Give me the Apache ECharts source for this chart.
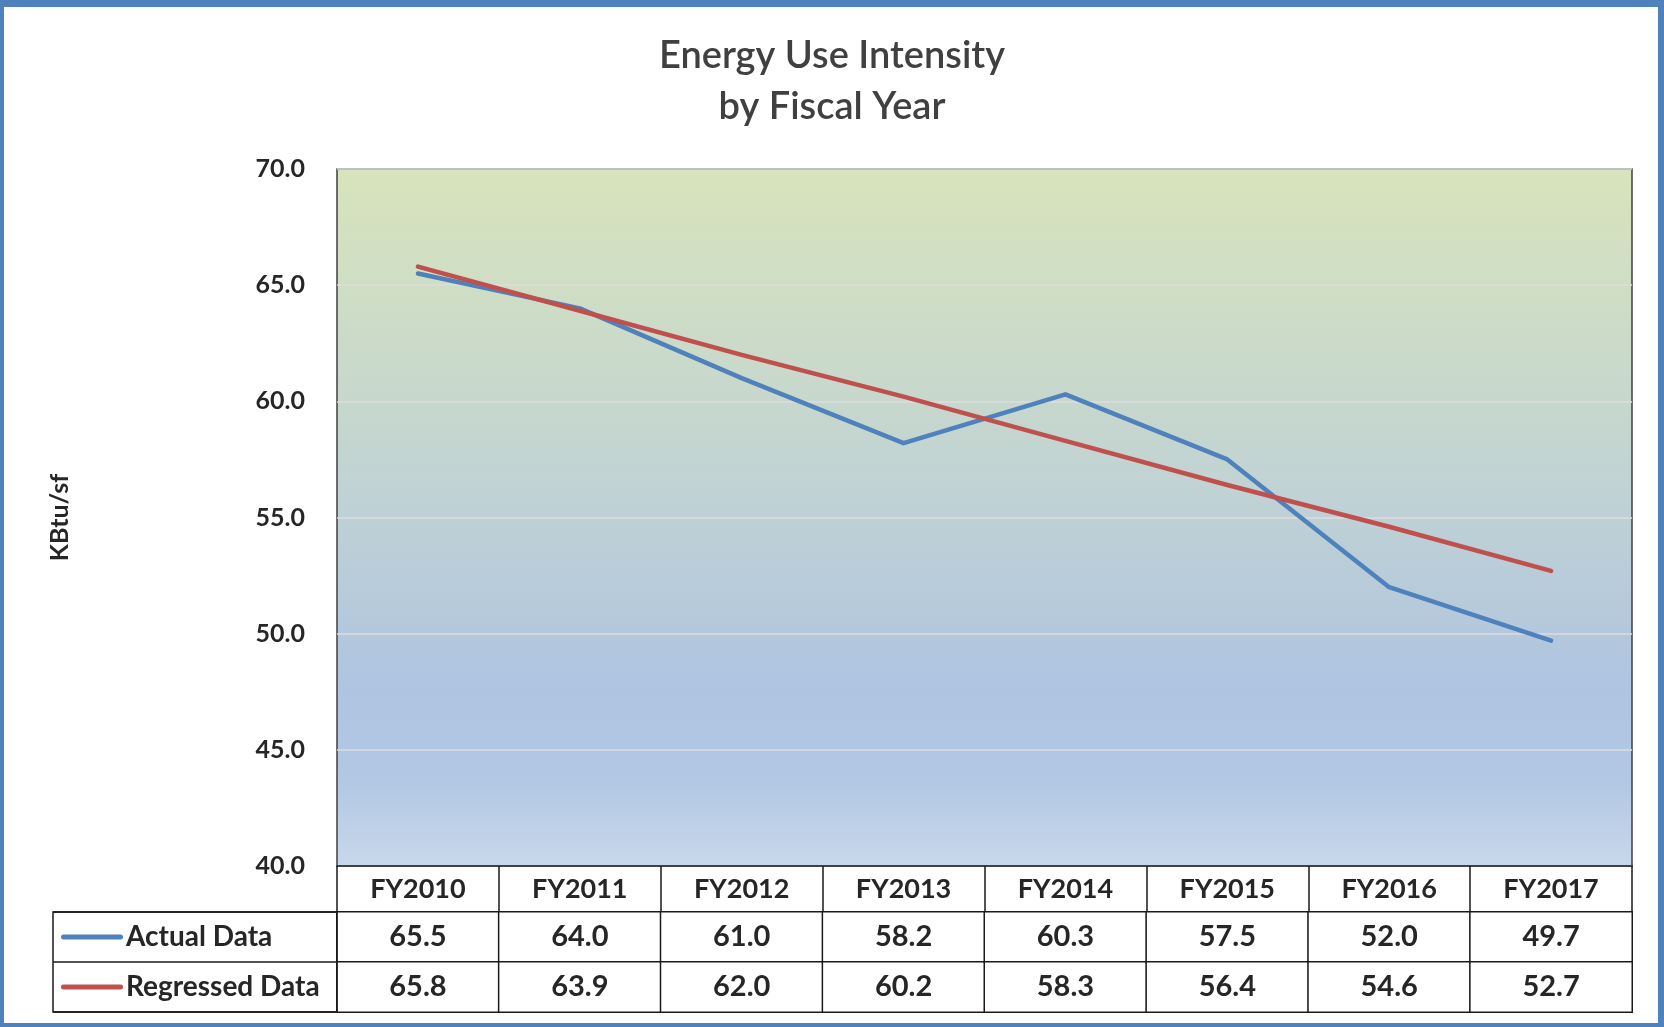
<!DOCTYPE html>
<head>
    <meta charset="utf-8">
    <title>Energy Use Intensity by Fiscal Year</title>
    <script src="https://cdn.jsdelivr.net/npm/echarts@6/dist/echarts.min.js"></script>
    <style>
        body { margin: 0; background: #fff; }
        #main { position: absolute; left: 0; top: 0; width: 1664px; height: 1027px; }
        #frame { position: absolute; left: 0; top: 0; width: 1664px; height: 1027px; box-sizing: border-box;
                 border: solid #4f81bd; border-width: 7px 6px 4px 4px; pointer-events: none; }
    </style>
</head>
<body>
    <div id="main"></div>
    <div id="frame"></div>
    <script type="text/javascript">
        // data
        var years = ['FY2010', 'FY2011', 'FY2012', 'FY2013', 'FY2014', 'FY2015', 'FY2016', 'FY2017'];
        var actual = [65.5, 64.0, 61.0, 58.2, 60.3, 57.5, 52.0, 49.7];
        var regressed = [65.8, 63.9, 62.0, 60.2, 58.3, 56.4, 54.6, 52.7];
        var seriesNames = ['Actual Data', 'Regressed Data'];
        var seriesColors = ['#4f81bd', '#c0504d'];

        var font = 'Lato, "Open Sans", sans-serif';
        var txt = '#262626';

        // table cells: [col, row, value]
        var cells = [];
        for (var i = 0; i < years.length; i++) {
            cells.push([i, 0, actual[i]]);
            cells.push([i, 1, regressed[i]]);
        }

        var myChart = echarts.init(document.getElementById('main'));
        var option = {
            animation: false,
            textStyle: { fontFamily: font },
            title: {
                text: 'Energy Use Intensity\nby Fiscal Year',
                left: 'center',
                top: 25,
                textStyle: { fontFamily: font, fontSize: 38, fontWeight: 600, color: '#404040', lineHeight: 51 }
            },
            visualMap: {
                show: false, seriesIndex: 2, min: 0, max: 100,
                inRange: { color: ['#ffffff', '#ffffff'] }
            },
            grid: [
                {
                    left: 337, right: 32, top: 169, bottom: 161,
                    show: true, borderColor: '#404040', borderWidth: 1.5,
                    backgroundColor: new echarts.graphic.LinearGradient(0, 0, 0, 1, [
                        { offset: 0, color: '#d8e4bc' },
                        { offset: 0.45, color: '#c1d3d3' },
                        { offset: 0.75, color: '#aec4e1' },
                        { offset: 0.88, color: '#b2c8e3' },
                        { offset: 1, color: '#c8d8eb' }
                    ])
                },
                { left: 337, right: 32, top: 912, height: 100 }
            ],
            xAxis: [
                {
                    type: 'category', gridIndex: 0, data: years, boundaryGap: true,
                    axisLine: { lineStyle: { color: '#1a1a1a', width: 1.5 } },
                    axisTick: { show: true, inside: false, length: 46, interval: 0, lineStyle: { color: '#1a1a1a', width: 1.5 } },
                    axisLabel: { margin: 10, fontSize: 27, fontWeight: 'bold', color: txt, fontFamily: font }
                },
                {
                    type: 'category', gridIndex: 1, data: years,
                    axisLine: { show: false }, axisTick: { show: false }, axisLabel: { show: false }
                }
            ],
            yAxis: [
                {
                    type: 'value', gridIndex: 0, min: 40, max: 70, interval: 5,
                    name: 'KBtu/sf', nameLocation: 'middle', nameGap: 265, nameRotate: 90,
                    nameTextStyle: { fontSize: 25, fontWeight: 'bold', color: txt, fontFamily: font },
                    axisLine: { show: false }, axisTick: { show: false },
                    axisLabel: {
                        margin: 32, fontSize: 25, fontWeight: 'bold', color: txt, fontFamily: font,
                        formatter: function (v) { return v.toFixed(1); }
                    },
                    splitLine: { lineStyle: { color: '#dcdcdc', width: 1.5 } }
                },
                {
                    type: 'category', gridIndex: 1, data: seriesNames, inverse: true,
                    axisLine: { show: true, lineStyle: { color: '#1a1a1a', width: 1.5 } },
                    axisTick: { show: true, length: 284, interval: 0, lineStyle: { color: '#1a1a1a', width: 1.5 } },
                    axisLabel: {
                        align: 'left', margin: 276,
                        formatter: function (v, idx) { return '{k' + idx + '|}{t|' + v + '}'; },
                        rich: {
                            k0: { width: 62, height: 5, backgroundColor: seriesColors[0], borderRadius: 3 },
                            k1: { width: 62, height: 5, backgroundColor: seriesColors[1], borderRadius: 3 },
                            t: { fontSize: 28, fontWeight: 'bold', color: txt, fontFamily: font, padding: [0, 0, 0, 3] }
                        }
                    }
                }
            ],
            graphic: [
                {
                    type: 'rect', z: 100,
                    shape: { x: 53, y: 912, width: 284, height: 100 },
                    style: { fill: 'none', stroke: '#1a1a1a', lineWidth: 1.5 }
                }
            ],
            series: [
                {
                    name: seriesNames[0], type: 'line', xAxisIndex: 0, yAxisIndex: 0,
                    data: actual, symbol: 'none', color: seriesColors[0],
                    lineStyle: { width: 4.5, cap: 'round', join: 'round' }
                },
                {
                    name: seriesNames[1], type: 'line', xAxisIndex: 0, yAxisIndex: 0,
                    data: regressed, symbol: 'none', color: seriesColors[1],
                    lineStyle: { width: 4.5, cap: 'round', join: 'round' }
                },
                {
                    name: 'table', type: 'heatmap', xAxisIndex: 1, yAxisIndex: 1,
                    data: cells,
                    itemStyle: { color: '#ffffff', borderColor: '#1a1a1a', borderWidth: 1.5 },
                    label: {
                        show: true, fontSize: 29, fontWeight: 'bold', color: txt, fontFamily: font,
                        formatter: function (p) { return p.value[2].toFixed(1); }
                    },
                    emphasis: { disabled: true }
                }
            ]
        };
        myChart.setOption(option);
    </script>
</body>
